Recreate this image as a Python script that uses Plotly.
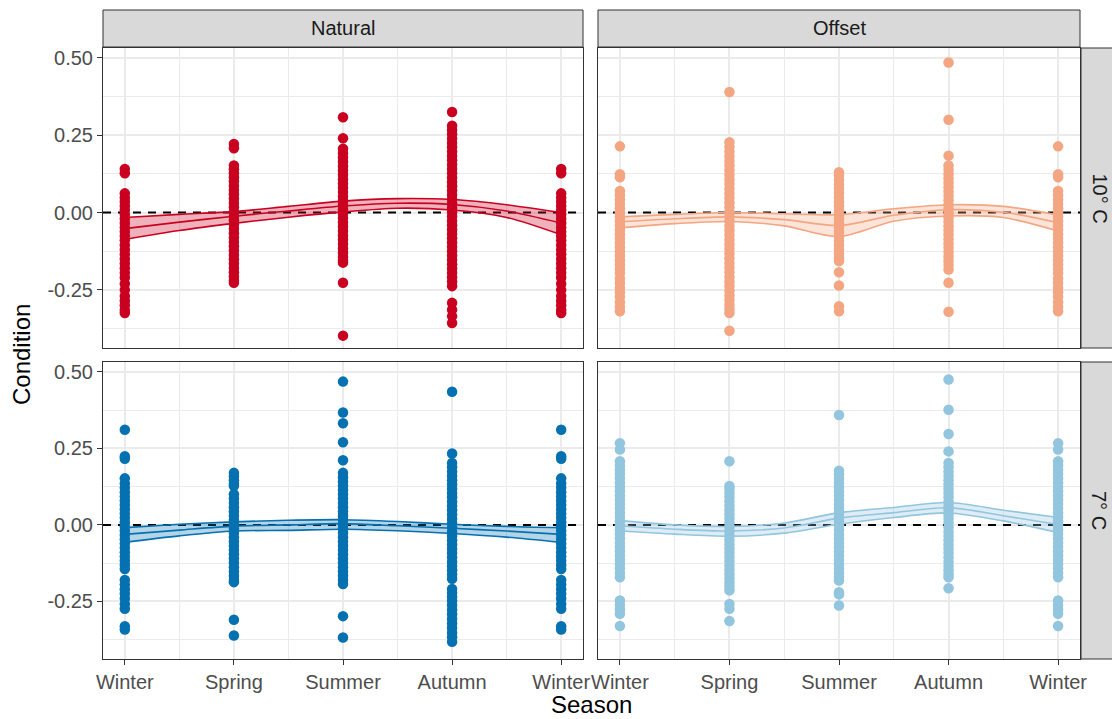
import plotly.graph_objects as go

# ---------------- data ----------------
seasons = ["Winter", "Spring", "Summer", "Autumn", "Winter"]
season_pos = [1, 2, 3, 4, 5]
x_range = [0.8, 5.2]
y_range = [-0.438, 0.532]
y_tickvals = [-0.25, 0.0, 0.25, 0.5]
y_ticktext = ["-0.25", "0.00", "0.25", "0.50"]
ref_level = 0.0
col_labels = ["Natural", "Offset"]
row_labels = ["10° C", "7° C"]

# Natural, 10 C
n10_winter = [0.141, 0.127, 0.062, 0.048, 0.035, 0.021, 0.008, -0.006, -0.020, -0.034, -0.048, -0.062,
              -0.076, -0.090, -0.105, -0.120, -0.135, -0.150, -0.165, -0.180, -0.195, -0.210, -0.230,
              -0.250, -0.270, -0.285, -0.300, -0.315, -0.325]
n10_spring = [0.222, 0.208, 0.152, 0.140, 0.127, 0.114, 0.101, 0.087, 0.073, 0.059, 0.045, 0.031, 0.017,
              0.003, -0.011, -0.025, -0.039, -0.053, -0.067, -0.081, -0.095, -0.109, -0.123, -0.137,
              -0.151, -0.165, -0.179, -0.193, -0.207, -0.220, -0.227]
n10_summer = [0.308, 0.240, 0.206, 0.192, 0.178, 0.164, 0.150, 0.136, 0.122, 0.108, 0.094, 0.080, 0.066,
              0.052, 0.038, 0.024, 0.010, -0.004, -0.018, -0.032, -0.046, -0.060, -0.074, -0.088,
              -0.102, -0.116, -0.130, -0.144, -0.155, -0.162, -0.227, -0.398]
n10_autumn = [0.325, 0.281, 0.267, 0.253, 0.239, 0.225, 0.211, 0.197, 0.183, 0.169, 0.155, 0.141, 0.127,
              0.113, 0.099, 0.085, 0.071, 0.057, 0.043, 0.029, 0.015, 0.001, -0.013, -0.027, -0.041,
              -0.055, -0.069, -0.083, -0.097, -0.111, -0.125, -0.139, -0.153, -0.167, -0.181, -0.195,
              -0.209, -0.223, -0.238, -0.292, -0.314, -0.335, -0.357]

# Offset, 10 C
o10_winter = [0.214, 0.124, 0.114, 0.070, 0.056, 0.042, 0.028, 0.014, 0.000, -0.014, -0.028, -0.042,
              -0.056, -0.070, -0.084, -0.098, -0.112, -0.126, -0.140, -0.154, -0.168, -0.182, -0.196,
              -0.213, -0.228, -0.243, -0.258, -0.272, -0.290, -0.305, -0.319]
o10_spring = [0.390, 0.227, 0.212, 0.197, 0.182, 0.167, 0.152, 0.137, 0.122, 0.107, 0.092, 0.077, 0.062,
              0.047, 0.032, 0.017, 0.002, -0.013, -0.028, -0.043, -0.058, -0.073, -0.088, -0.103,
              -0.118, -0.133, -0.148, -0.163, -0.178, -0.193, -0.208, -0.223, -0.238, -0.253, -0.268,
              -0.283, -0.298, -0.312, -0.325, -0.382]
o10_summer = [0.130, 0.120, 0.105, 0.091, 0.077, 0.063, 0.049, 0.035, 0.021, 0.007, -0.007, -0.021,
              -0.035, -0.049, -0.063, -0.077, -0.091, -0.105, -0.119, -0.133, -0.147, -0.157, -0.193,
              -0.236, -0.303, -0.319]
o10_autumn = [0.485, 0.300, 0.184, 0.152, 0.138, 0.124, 0.110, 0.096, 0.082, 0.068, 0.054, 0.040, 0.026,
              0.012, -0.002, -0.016, -0.030, -0.044, -0.058, -0.072, -0.086, -0.100, -0.114, -0.128,
              -0.142, -0.156, -0.170, -0.184, -0.227, -0.321]

# Natural, 7 C
n7_winter = [0.311, 0.224, 0.216, 0.152, 0.135, 0.121, 0.107, 0.093, 0.079, 0.065, 0.051, 0.037, 0.023,
             0.009, -0.005, -0.019, -0.033, -0.047, -0.061, -0.075, -0.089, -0.103, -0.117, -0.131,
             -0.144, -0.180, -0.195, -0.210, -0.225, -0.240, -0.258, -0.274, -0.331, -0.342]
n7_spring = [0.170, 0.158, 0.146, 0.134, 0.127, 0.100, 0.086, 0.072, 0.058, 0.044, 0.030, 0.016, 0.002,
             -0.012, -0.026, -0.040, -0.054, -0.068, -0.082, -0.096, -0.110, -0.124, -0.138, -0.152,
             -0.166, -0.180, -0.187, -0.310, -0.361]
n7_summer = [0.468, 0.367, 0.332, 0.270, 0.211, 0.170, 0.156, 0.142, 0.128, 0.114, 0.100, 0.086, 0.072,
             0.058, 0.044, 0.030, 0.016, 0.002, -0.012, -0.026, -0.040, -0.054, -0.068, -0.082, -0.096,
             -0.110, -0.124, -0.138, -0.152, -0.166, -0.180, -0.193, -0.298, -0.368]
n7_autumn = [0.435, 0.233, 0.202, 0.188, 0.174, 0.160, 0.146, 0.132, 0.118, 0.104, 0.090, 0.076, 0.062,
             0.048, 0.034, 0.020, 0.006, -0.008, -0.022, -0.036, -0.050, -0.064, -0.078, -0.092,
             -0.106, -0.120, -0.134, -0.148, -0.162, -0.176, -0.209, -0.222, -0.235, -0.248, -0.262,
             -0.277, -0.292, -0.307, -0.322, -0.337, -0.352, -0.367, -0.382]

# Offset, 7 C
o7_winter = [0.267, 0.246, 0.208, 0.194, 0.180, 0.166, 0.152, 0.138, 0.124, 0.110, 0.096, 0.082, 0.068,
             0.054, 0.040, 0.026, 0.012, -0.002, -0.016, -0.030, -0.044, -0.058, -0.072, -0.086,
             -0.100, -0.114, -0.128, -0.142, -0.157, -0.171, -0.247, -0.262, -0.276, -0.290, -0.330]
o7_spring = [0.208, 0.127, 0.117, 0.105, 0.091, 0.077, 0.063, 0.049, 0.035, 0.021, 0.007, -0.007, -0.021,
             -0.035, -0.049, -0.063, -0.077, -0.091, -0.105, -0.119, -0.133, -0.147, -0.161, -0.175,
             -0.189, -0.202, -0.214, -0.258, -0.274, -0.314]
o7_summer = [0.359, 0.177, 0.165, 0.151, 0.137, 0.123, 0.109, 0.095, 0.081, 0.067, 0.053, 0.039, 0.025,
             0.011, -0.003, -0.017, -0.031, -0.045, -0.059, -0.073, -0.087, -0.101, -0.115, -0.129,
             -0.143, -0.157, -0.170, -0.182, -0.220, -0.227, -0.263]
o7_autumn = [0.475, 0.376, 0.297, 0.240, 0.202, 0.188, 0.174, 0.160, 0.146, 0.132, 0.118, 0.104, 0.090,
             0.076, 0.062, 0.048, 0.034, 0.020, 0.006, -0.008, -0.022, -0.036, -0.050, -0.064, -0.078,
             -0.092, -0.106, -0.120, -0.134, -0.148, -0.160, -0.171, -0.207]

# smooth fits (mean, lower, upper) read at these positions
fit_x = [1.0, 1.5, 2.0, 2.5, 3.0, 3.5, 4.0, 4.5, 5.0]
n10_fit = [-0.052, -0.031, -0.012, 0.005, 0.021, 0.030, 0.026, 0.005, -0.034]
n10_lo = [-0.087, -0.058, -0.035, -0.015, 0.002, 0.014, 0.008, -0.016, -0.072]
n10_hi = [-0.016, -0.006, 0.003, 0.020, 0.037, 0.045, 0.042, 0.025, 0.000]

o10_fit = [-0.030, -0.020, -0.014, -0.023, -0.042, -0.009, 0.009, 0.001, -0.033]
o10_lo = [-0.050, -0.036, -0.029, -0.043, -0.078, -0.028, -0.011, -0.016, -0.060]
o10_hi = [-0.014, -0.006, 0.000, -0.004, -0.007, 0.012, 0.025, 0.020, -0.008]

n7_fit = [-0.031, -0.017, -0.004, 0.000, 0.004, -0.003, -0.011, -0.020, -0.031]
n7_lo = [-0.057, -0.036, -0.020, -0.018, -0.014, -0.019, -0.028, -0.040, -0.057]
n7_hi = [-0.009, 0.002, 0.010, 0.015, 0.017, 0.011, 0.002, -0.005, -0.009]

o7_fit = [-0.003, -0.014, -0.020, -0.010, 0.022, 0.040, 0.056, 0.030, 0.001]
o7_lo = [-0.019, -0.030, -0.037, -0.027, 0.002, 0.024, 0.039, 0.013, -0.025]
o7_hi = [0.014, 0.000, -0.005, 0.006, 0.040, 0.057, 0.073, 0.048, 0.024]

colors = {"n10": "#CA0020", "o10": "#F4A582", "n7": "#0571B0", "o7": "#92C5DE"}

# --------------- figure ---------------
W, H = 1112, 719
FONT = "Liberation Sans, Arial, sans-serif"


def px_x(p):
    return p / W


def px_y(p):
    return 1 - p / H


col_px = [(103, 583), (598, 1080)]
row_px = [(48, 348), (362, 659)]
col_dom = [[px_x(a), px_x(b)] for a, b in col_px]
row_dom = [[px_y(b), px_y(a)] for a, b in row_px]


def rgba(hexc, a):
    h = hexc.lstrip("#")
    return "rgba(%d,%d,%d,%s)" % (int(h[0:2], 16), int(h[2:4], 16), int(h[4:6], 16), a)


panels = [
    ("n10", 0, 0, [n10_winter, n10_spring, n10_summer, n10_autumn, n10_winter], n10_fit, n10_lo, n10_hi),
    ("o10", 0, 1, [o10_winter, o10_spring, o10_summer, o10_autumn, o10_winter], o10_fit, o10_lo, o10_hi),
    ("n7", 1, 0, [n7_winter, n7_spring, n7_summer, n7_autumn, n7_winter], n7_fit, n7_lo, n7_hi),
    ("o7", 1, 1, [o7_winter, o7_spring, o7_summer, o7_autumn, o7_winter], o7_fit, o7_lo, o7_hi),
]

fig = go.Figure()
layout = dict(
    width=W, height=H,
    margin=dict(l=0, r=0, t=0, b=0),
    paper_bgcolor="white", plot_bgcolor="white",
    showlegend=False,
    font=dict(family=FONT),
)
shapes = []
annotations = []

for k, (key, r, c, cols, fit, lo, hi) in enumerate(panels):
    idx = k + 1
    xa = "x" if idx == 1 else "x%d" % idx
    ya = "y" if idx == 1 else "y%d" % idx
    xname = "xaxis" if idx == 1 else "xaxis%d" % idx
    yname = "yaxis" if idx == 1 else "yaxis%d" % idx
    colr = colors[key]

    # dashed reference line
    fig.add_trace(go.Scatter(x=x_range, y=[ref_level, ref_level], mode="lines", xaxis=xa, yaxis=ya,
                             line=dict(color="black", width=2, dash="8px,7px"), hoverinfo="skip"))
    xs, ys = [], []
    for pos, vals in zip(season_pos, cols):
        xs += [pos] * len(vals)
        ys += vals
    fig.add_trace(go.Scatter(x=xs, y=ys, mode="markers", xaxis=xa, yaxis=ya,
                             marker=dict(color=colr, size=10.5, line=dict(width=0)),
                             hoverinfo="skip"))
    fig.add_trace(go.Scatter(x=fit_x, y=lo, mode="lines", xaxis=xa, yaxis=ya,
                             line=dict(color=colr, width=1.6, shape="spline", smoothing=0.8),
                             hoverinfo="skip"))
    fig.add_trace(go.Scatter(x=fit_x, y=hi, mode="lines", xaxis=xa, yaxis=ya, fill="tonexty",
                             fillcolor=rgba(colr, 0.3),
                             line=dict(color=colr, width=1.6, shape="spline", smoothing=0.8),
                             hoverinfo="skip"))
    fig.add_trace(go.Scatter(x=fit_x, y=fit, mode="lines", xaxis=xa, yaxis=ya,
                             line=dict(color=colr, width=1.6, shape="spline", smoothing=0.8),
                             hoverinfo="skip"))

    bottom = (r == 1)
    left = (c == 0)
    layout[xname] = dict(
        domain=col_dom[c], anchor=ya, range=x_range,
        tickmode="array", tickvals=season_pos, ticktext=seasons,
        showticklabels=bottom, ticks="outside" if bottom else "", ticklen=5,
        tickwidth=1, tickcolor="#333333",
        tickfont=dict(size=20, color="#4D4D4D", family=FONT),
        showgrid=True, gridcolor="#EBEBEB", gridwidth=1.6,
        minor=dict(tickmode="array", tickvals=[1.5, 2.5, 3.5, 4.5], showgrid=True,
                   gridcolor="#EBEBEB", gridwidth=0.8, ticks=""),
        showline=True, mirror=True, linecolor="#333333", linewidth=1,
        zeroline=False, automargin=False, fixedrange=True,
    )
    layout[yname] = dict(
        domain=row_dom[r], anchor=xa, range=y_range,
        tickmode="array", tickvals=y_tickvals, ticktext=y_ticktext,
        showticklabels=left, ticks="outside" if left else "", ticklen=5,
        tickwidth=1, tickcolor="#333333",
        tickfont=dict(size=20, color="#4D4D4D", family=FONT),
        showgrid=True, gridcolor="#EBEBEB", gridwidth=1.6,
        minor=dict(tickmode="array", tickvals=[-0.375, -0.125, 0.125, 0.375], showgrid=True,
                   gridcolor="#EBEBEB", gridwidth=0.8, ticks=""),
        showline=True, mirror=True, linecolor="#333333", linewidth=1,
        zeroline=False, automargin=False, fixedrange=True,
    )

# strips on top (columns)
for c, lab in enumerate(col_labels):
    x0, x1 = col_px[c]
    shapes.append(dict(type="rect", xref="paper", yref="paper",
                       x0=px_x(x0), x1=px_x(x1), y0=px_y(47), y1=px_y(10),
                       fillcolor="#D9D9D9", line=dict(color="#333333", width=1)))
    annotations.append(dict(text=lab, xref="paper", yref="paper", x=px_x((x0 + x1) / 2),
                            y=px_y(28.5), xanchor="center", yanchor="middle", showarrow=False,
                            font=dict(size=20, color="#1A1A1A", family=FONT)))
# strips on right (rows)
for r, lab in enumerate(row_labels):
    y0, y1 = row_px[r]
    shapes.append(dict(type="rect", xref="paper", yref="paper",
                       x0=px_x(1081), x1=px_x(1118), y0=px_y(y1), y1=px_y(y0),
                       fillcolor="#D9D9D9", line=dict(color="#333333", width=1)))
    annotations.append(dict(text=lab, xref="paper", yref="paper", x=px_x(1099.5),
                            y=px_y((y0 + y1) / 2), xanchor="center", yanchor="middle",
                            showarrow=False, textangle=90,
                            font=dict(size=20, color="#1A1A1A", family=FONT)))

# axis titles
annotations.append(dict(text="Season", xref="paper", yref="paper", x=px_x(591), y=px_y(704),
                        xanchor="center", yanchor="middle", showarrow=False,
                        font=dict(size=24, color="black", family=FONT)))
annotations.append(dict(text="Condition", xref="paper", yref="paper", x=px_x(22), y=px_y(355),
                        xanchor="center", yanchor="middle", showarrow=False, textangle=-90,
                        font=dict(size=24, color="black", family=FONT)))

layout["shapes"] = shapes
layout["annotations"] = annotations
fig.update_layout(**layout)
fig.write_html("out.html", config={"displayModeBar": False},
               post_script="document.body.style.margin='0px';document.body.style.overflow='hidden';")
